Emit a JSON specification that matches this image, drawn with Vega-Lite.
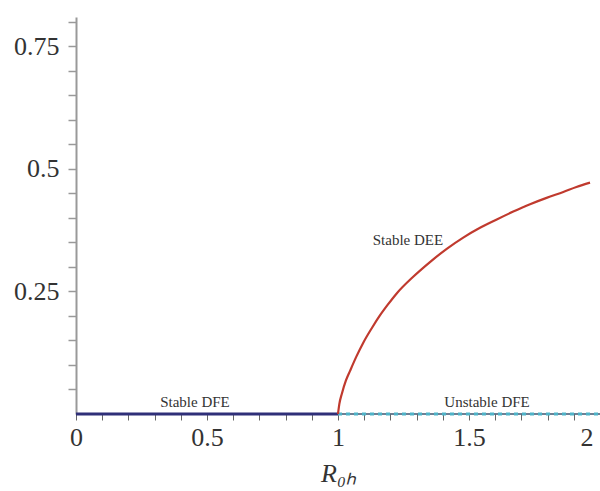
{
  "$schema": "https://vega.github.io/schema/vega-lite/v6.json",
  "width": 524,
  "height": 397,
  "autosize": "none",
  "padding": {"left": 76, "top": 17, "right": 0, "bottom": 77},
  "background": "white",
  "config": {"view": {"stroke": null}, "font": "Liberation Serif"},
  "datasets": {
    "lines": [
      {"series": "stable", "x": 0, "y": 0},
      {"series": "stable", "x": 1, "y": 0},
      {"series": "unstable", "x": 1, "y": 0},
      {"series": "unstable", "x": 2, "y": 0},
      {"series": "dee", "x": 1.0, "y": 0.0},
      {"series": "dee", "x": 1.005, "y": 0.02},
      {"series": "dee", "x": 1.015, "y": 0.042},
      {"series": "dee", "x": 1.03, "y": 0.068},
      {"series": "dee", "x": 1.046, "y": 0.088},
      {"series": "dee", "x": 1.07, "y": 0.117},
      {"series": "dee", "x": 1.097, "y": 0.146},
      {"series": "dee", "x": 1.13, "y": 0.176},
      {"series": "dee", "x": 1.16, "y": 0.201},
      {"series": "dee", "x": 1.19, "y": 0.223},
      {"series": "dee", "x": 1.224, "y": 0.246},
      {"series": "dee", "x": 1.287, "y": 0.28},
      {"series": "dee", "x": 1.351, "y": 0.31},
      {"series": "dee", "x": 1.415, "y": 0.337},
      {"series": "dee", "x": 1.478, "y": 0.36},
      {"series": "dee", "x": 1.542, "y": 0.38},
      {"series": "dee", "x": 1.606, "y": 0.397},
      {"series": "dee", "x": 1.669, "y": 0.413},
      {"series": "dee", "x": 1.733, "y": 0.428},
      {"series": "dee", "x": 1.796, "y": 0.441},
      {"series": "dee", "x": 1.86, "y": 0.453},
      {"series": "dee", "x": 1.91, "y": 0.463},
      {"series": "dee", "x": 1.962, "y": 0.472}
    ],
    "labels": [
      {"x": 0.454, "y": 0.014, "text": "Stable DFE"},
      {"x": 1.569, "y": 0.014, "text": "Unstable DFE"},
      {"x": 1.267, "y": 0.345, "text": "Stable DEE"}
    ]
  },
  "encoding": {
    "x": {
      "field": "x",
      "type": "quantitative",
      "scale": {"domain": [0, 2], "nice": false, "zero": false},
      "axis": {
        "title": "R₀ₕ",
        "titleFont": "Liberation Serif",
        "titleFontStyle": "italic",
        "titleFontWeight": "normal",
        "titleFontSize": 26,
        "titleColor": "#333333",
        "titlePadding": 10,
        "domain": false,
        "grid": false,
        "values": [0, 0.1, 0.2, 0.3, 0.4, 0.5, 0.6, 0.7, 0.8, 0.9, 1, 1.1, 1.2, 1.3, 1.4, 1.5, 1.6, 1.7, 1.8, 1.9, 2],
        "labelExpr": "datum.value == 0 ? '0' : datum.value == 0.5 ? '0.5' : datum.value == 1 ? '1' : datum.value == 1.5 ? '1.5' : datum.value == 2 ? '2' : ''",
        "labelFont": "Liberation Serif",
        "labelFontSize": 26,
        "labelColor": "#333333",
        "labelPadding": 4,
        "labelAlign": {"condition": {"test": "datum.value == 2", "value": "right"}, "value": "center"},
        "labelOffset": {"condition": {"test": "datum.value == 2", "value": -7}, "value": 0},
        "labelFlush": false,
        "labelBound": false,
        "labelOverlap": false,
        "tickSize": 6,
        "tickColor": "#666666",
        "tickWidth": 1
      }
    },
    "y": {
      "field": "y",
      "type": "quantitative",
      "scale": {"domain": [0, 0.81], "nice": false, "zero": false},
      "axis": {
        "title": null,
        "grid": false,
        "domainColor": "#999999",
        "domainWidth": 2,
        "tickColor": "#999999",
        "tickSize": 8,
        "tickWidth": 1.5,
        "values": [0.05, 0.1, 0.15, 0.2, 0.25, 0.3, 0.35, 0.4, 0.45, 0.5, 0.55, 0.6, 0.65, 0.7, 0.75, 0.8],
        "labelExpr": "datum.value == 0.25 ? '0.25' : datum.value == 0.5 ? '0.5' : datum.value == 0.75 ? '0.75' : ''",
        "labelFont": "Liberation Serif",
        "labelFontSize": 26,
        "labelColor": "#333333",
        "labelPadding": 9,
        "labelOverlap": false
      }
    }
  },
  "layer": [
    {
      "data": {"name": "lines"},
      "transform": [{"filter": "datum.series == 'unstable'"}],
      "mark": {"type": "line", "color": "#3d5670", "strokeWidth": 1.5}
    },
    {
      "data": {"name": "lines"},
      "transform": [{"filter": "datum.series == 'unstable'"}],
      "mark": {"type": "line", "color": "#4fb3c8", "strokeWidth": 3, "strokeDash": [4, 4]}
    },
    {
      "data": {"name": "lines"},
      "transform": [{"filter": "datum.series == 'stable'"}],
      "mark": {"type": "line", "color": "#2f2f78", "strokeWidth": 3}
    },
    {
      "data": {"name": "lines"},
      "transform": [{"filter": "datum.series == 'dee'"}],
      "mark": {"type": "line", "color": "#c03a2e", "strokeWidth": 2.2, "interpolate": "monotone"}
    },
    {
      "data": {"name": "labels"},
      "mark": {"type": "text", "font": "Liberation Serif", "fontSize": 15, "color": "#333333", "baseline": "alphabetic", "align": "center"},
      "encoding": {"text": {"field": "text", "type": "nominal"}}
    }
  ]
}
